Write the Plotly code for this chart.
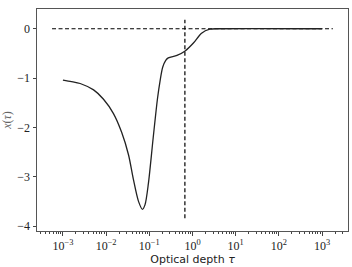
import plotly.graph_objects as go

# curve data
tau = [0.001, 0.00158, 0.00251, 0.00513, 0.00871, 0.0148, 0.0229, 0.0331, 0.0427, 0.0562,
       0.0692, 0.0794, 0.0955, 0.123, 0.155, 0.178, 0.204, 0.240, 0.275, 0.437, 0.676,
       1.05, 1.62, 2.51, 3.98, 1000]
x_tau = [-1.04, -1.07, -1.11, -1.24, -1.43, -1.72, -2.10, -2.56, -3.05, -3.50,
         -3.66, -3.57, -3.13, -2.21, -1.41, -1.05, -0.78, -0.64, -0.59, -0.54, -0.45,
         -0.29, -0.09, -0.01, 0.0, 0.0]

# reference lines
hline_tau = [0.00056, 1778]
hline_y = [0.0, 0.0]
vline_tau = [2 / 3, 2 / 3]
vline_y = [-3.84, 0.18]

xtick_vals = [1e-3, 1e-2, 1e-1, 1e0, 1e1, 1e2, 1e3]
xtick_text = ["10<sup>−3</sup>", "10<sup>−2</sup>", "10<sup>−1</sup>", "10<sup>0</sup>",
              "10<sup>1</sup>", "10<sup>2</sup>", "10<sup>3</sup>"]
ytick_vals = [0, -1, -2, -3, -4]
ytick_text = ["0", "−1", "−2", "−3", "−4"]
minor_vals = [m * 10 ** e for e in range(-4, 4) for m in range(2, 10)]

fig = go.Figure()
fig.add_trace(go.Scatter(x=hline_tau, y=hline_y, mode="lines",
                         line=dict(color="black", width=1.2, dash="4px,2.5px")))
fig.add_trace(go.Scatter(x=vline_tau, y=vline_y, mode="lines",
                         line=dict(color="black", width=1.2, dash="4px,2.5px")))
fig.add_trace(go.Scatter(x=tau, y=x_tau, mode="lines",
                         line=dict(color="#222", width=1.3, shape="spline", smoothing=0.8)))

tickfont = dict(family="Liberation Serif", size=12, color="#222")
fig.update_layout(
    width=352, height=267,
    margin=dict(l=37, r=3, t=9, b=33),
    paper_bgcolor="white", plot_bgcolor="white",
    showlegend=False,
    xaxis=dict(type="log", range=[-3.6, 3.6],
               tickvals=xtick_vals, ticktext=xtick_text, tickfont=tickfont,
               ticks="outside", ticklen=3.5, tickwidth=0.8, tickcolor="#444",
               minor=dict(tickvals=minor_vals, ticks="outside", ticklen=2,
                          tickwidth=0.6, tickcolor="#444", showgrid=False),
               showgrid=False, zeroline=False,
               showline=True, linecolor="#555", linewidth=1, mirror=True,
               title=dict(text="Optical depth <i>τ</i>", standoff=3,
                          font=dict(family="DejaVu Sans", size=11, color="#222"))),
    yaxis=dict(range=[-4.1, 0.4],
               tickvals=ytick_vals, ticktext=ytick_text, tickfont=tickfont,
               ticks="outside", ticklen=3.5, tickwidth=0.8, tickcolor="#444",
               showgrid=False, zeroline=False,
               showline=True, linecolor="#555", linewidth=1, mirror=True,
               title=dict(text="<i>x</i>(<i>τ</i>)", standoff=3,
                          font=dict(family="Liberation Serif", size=12, color="#666"))),
)

fig.write_html("out.html")
